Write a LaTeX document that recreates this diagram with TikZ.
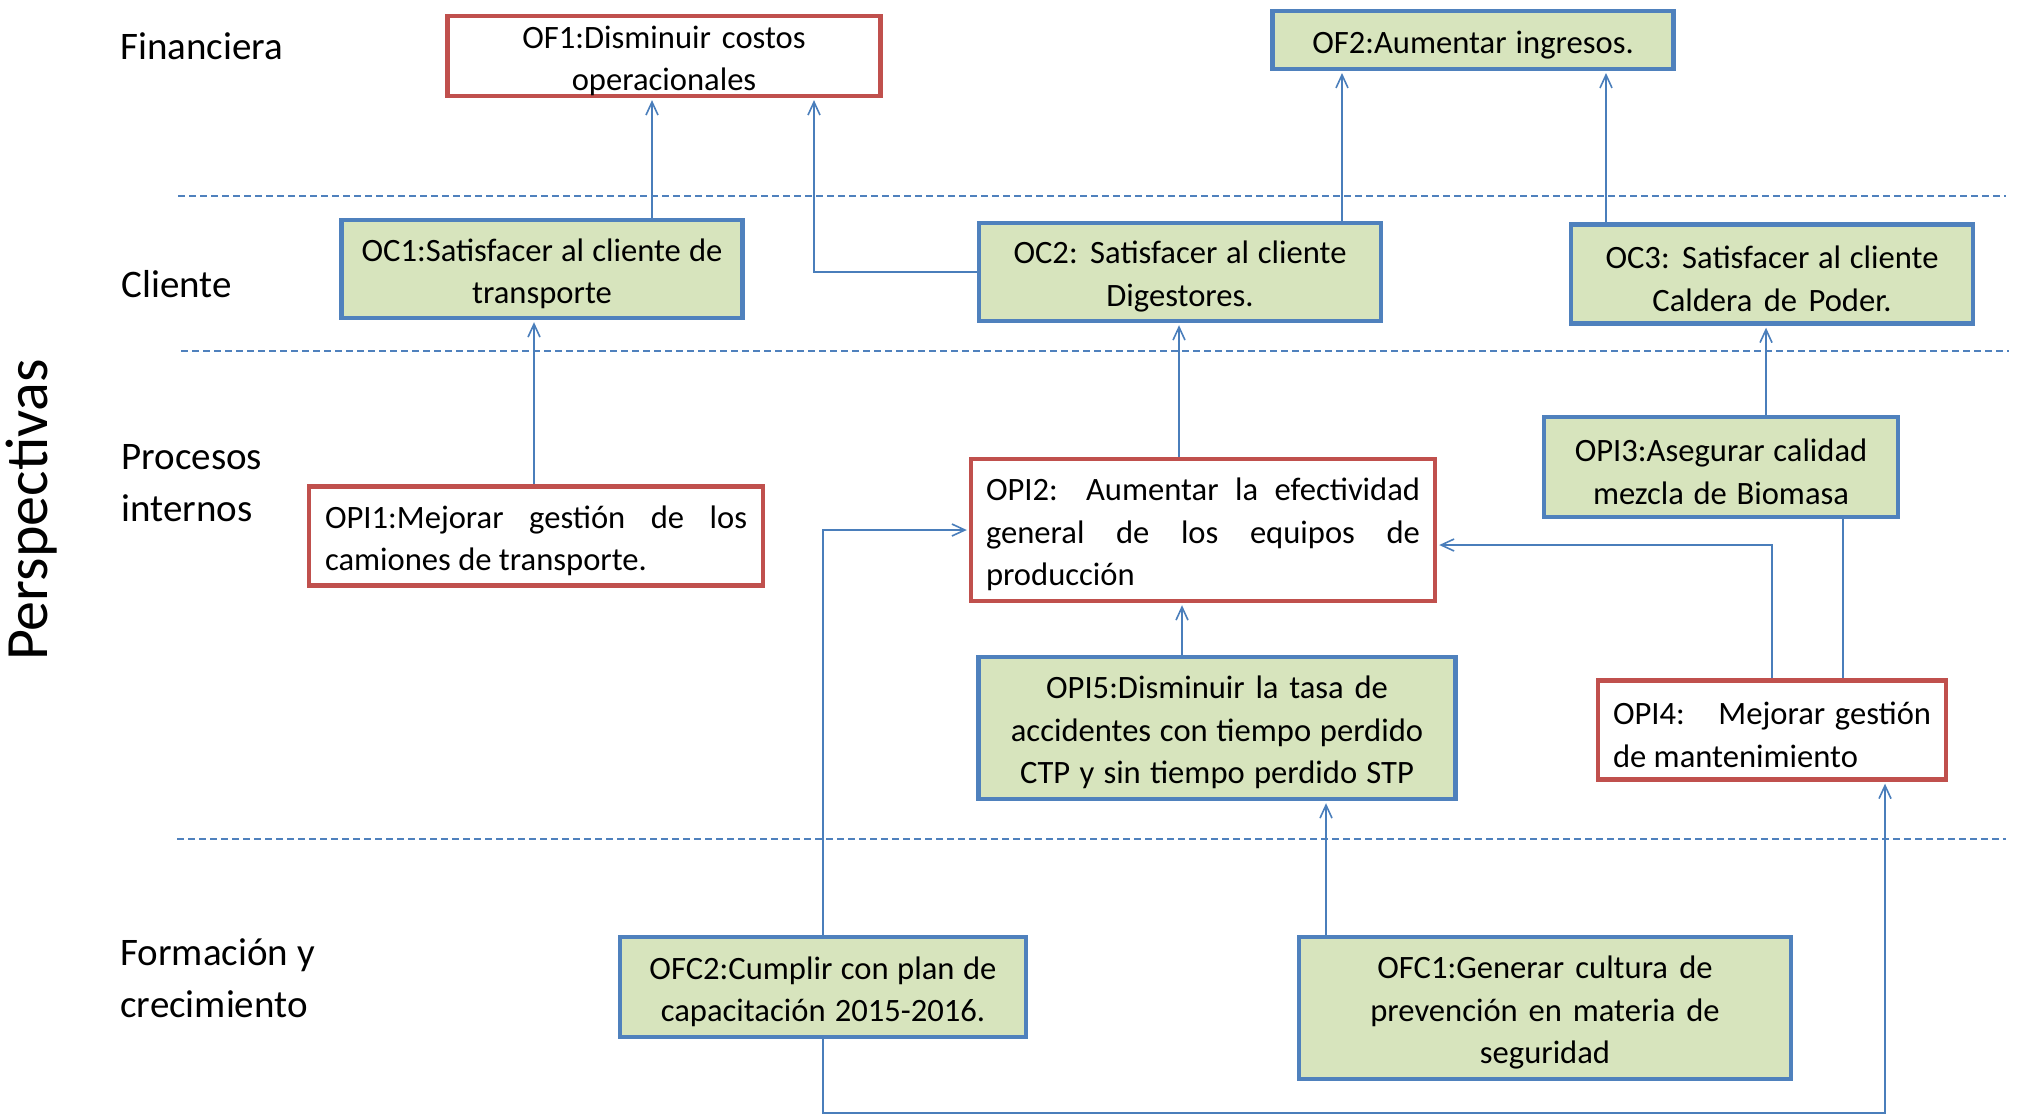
\documentclass[tikz,border=0pt]{standalone}
\usepackage{fontspec}
\setmainfont{Carlito}
\usetikzlibrary{arrows.meta,calc}
\definecolor{redB}{HTML}{C0504D}
\definecolor{blueB}{HTML}{4F81BD}
\definecolor{greenF}{HTML}{D7E4BD}
\definecolor{lineB}{HTML}{4A7EBB}
\newcommand{\jline}[2]{{\spaceskip=0pt\xspaceskip=0pt\makebox[#1][s]{#2}}}
\begin{document}
\begin{tikzpicture}[x=0.5pt,y=-0.5pt,
  box/.style={draw, line width=2.2pt, inner sep=0pt, font=\fontsize{16.3}{21.3}\selectfont, align=center,
    execute at begin node={\spaceskip=0pt\xspaceskip=0pt\rule{0pt}{16pt}}},
  gbox/.style={box, draw=blueB, fill=greenF},
  rbox/.style={box, draw=redB, fill=white},
  conn/.style={draw=lineB, line width=0.8pt, -{Straight Barb[length=6.5pt,width=6pt]}, shorten >=1pt},
  plainconn/.style={draw=lineB, line width=0.8pt},
  sepline/.style={draw=blueB, line width=0.6pt, dash pattern=on 3.5pt off 2pt},
  cat/.style={font=\fontsize{19.5}{25.8}\selectfont, align=left, anchor=west, inner sep=0pt}]

\useasboundingbox (0,0) rectangle (2023,1116);

% separators
\draw[sepline] (178,196) -- (2006,196);
\draw[sepline] (181,351) -- (2009,351);
\draw[sepline] (177,839) -- (2006,839);

% perspective labels
\node[rotate=90, font=\fontsize{30}{36}\selectfont, inner sep=0pt] (persp) at (32,510) {Perspectivas};
\node[cat] (fin) at (120,46) {Financiera};
\node[cat] (cli) at (121,284) {Cliente};
\node[cat] (pro) at (121,483) {Procesos\\internos};
\node[cat] (for) at (120,978) {Formación y\\crecimiento};

% boxes
\node[rbox, minimum width=216.5pt, text width=206pt, minimum height=39pt] (OF1) at (664,56) {OF1:Disminuir costos\\operacionales};
\node[gbox, minimum width=200.5pt, text width=190pt, minimum height=28.8pt] (OF2) at (1473,40) {OF2:Aumentar ingresos.};
\node[gbox, minimum width=200.5pt, text width=194pt, minimum height=49pt] (OC1) at (542,269) {OC1:Satisfacer al cliente de\\transporte};
\node[gbox, minimum width=201pt, text width=190pt, minimum height=49pt] (OC2) at (1180,272) {OC2: Satisfacer al cliente\\Digestores.};
\node[gbox, minimum width=201pt, text width=190pt, minimum height=49.5pt] (OC3) at (1772,274) {OC3: Satisfacer al cliente\\Caldera de Poder.};
\node[rbox, minimum width=227pt, minimum height=49.5pt, align=left, text width=211pt] (OPI1) at (536,536)
  {\jline{211pt}{OPI1:Mejorar gestión de los}\\camiones de transporte.};
\node[rbox, minimum width=232pt, minimum height=71pt, align=left, text width=217pt] (OPI2) at (1203,530)
  {\jline{217pt}{OPI2: Aumentar la efectividad}\\\jline{217pt}{general de los equipos de}\\producción};
\node[gbox, minimum width=177pt, text width=168pt, minimum height=50pt] (OPI3) at (1721,467) {OPI3:Asegurar calidad\\mezcla de Biomasa};
\node[gbox, minimum width=238.5pt, text width=230pt, minimum height=71pt] (OPI5) at (1217,728) {OPI5:Disminuir la tasa de\\accidentes con tiempo perdido\\CTP y sin tiempo perdido STP};
\node[rbox, minimum width=174pt, minimum height=49.5pt, align=left, text width=159pt] (OPI4) at (1772,730)
  {\jline{159pt}{OPI4: \ \ Mejorar gestión}\\de mantenimiento};
\node[gbox, minimum width=203pt, text width=194pt, minimum height=50pt] (OFC2) at (823,987) {OFC2:Cumplir con plan de\\capacitación 2015-2016.};
\node[gbox, minimum width=246pt, text width=236pt, minimum height=71pt] (OFC1) at (1545,1008) {OFC1:Generar cultura de\\prevención en materia de\\seguridad};

% connectors
\draw[conn] (OC1.north -| 652,0) -- (OF1.south -| 652,0);
\draw[conn] (OC2.west) -| (OF1.south -| 814,0);
\draw[conn] (OC2.north -| 1342,0) -- (OF2.south -| 1342,0);
\draw[conn] (OC3.north -| 1606,0) -- (OF2.south -| 1606,0);
\draw[conn] (OPI1.north -| 534,0) -- (OC1.south -| 534,0);
\draw[conn] (OPI2.north -| 1179,0) -- (OC2.south -| 1179,0);
\draw[conn] (OPI3.north -| 1766,0) -- (OC3.south -| 1766,0);
\draw[conn] (OPI5.north -| 1182,0) -- (OPI2.south -| 1182,0);
\draw[conn] (OPI4.north) |- ($(OPI2.east)+(0,15)$);
\draw[plainconn] (OPI3.south -| 1843,0) -- (OPI4.north -| 1843,0);
\draw[conn] (OFC2.north) |- (OPI2.west);
\draw[conn] (OFC1.north -| 1326,0) -- (OPI5.south -| 1326,0);
\draw[conn] (OFC2.south) -- (OFC2.south |- 0,1113) -| (OPI4.south -| 1885,0);
\end{tikzpicture}
\end{document}
